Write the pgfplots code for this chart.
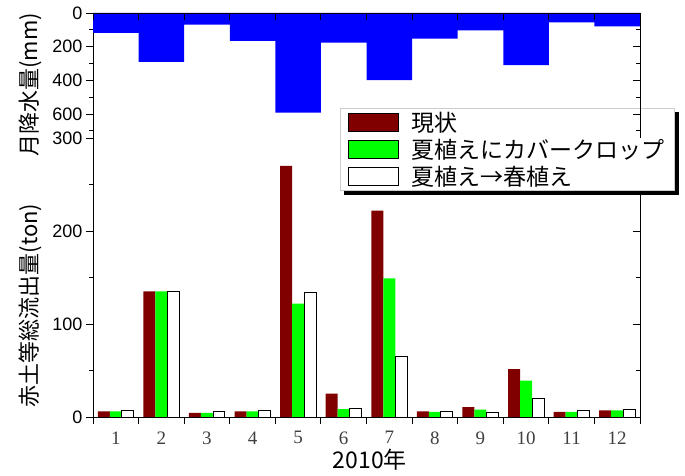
\documentclass[border=0pt]{standalone}
\usepackage{pgfplots}
\usepackage{pgfplotstable}
\pgfplotsset{compat=1.18}
\usepackage{fontspec}
\setmainfont{Liberation Serif}
\setsansfont{Liberation Sans}
\newfontfamily\cjk{Noto Sans CJK JP}

\pgfdeclarelayer{background}
\pgfsetlayers{background,main}

\definecolor{rainblue}{RGB}{0,0,255}
\definecolor{nowred}{RGB}{128,0,0}
\definecolor{covergreen}{RGB}{0,255,0}

% monthly red-soil runoff (ton) for the three cropping scenarios
\pgfplotstableread{
month now cover spring
1   6     6     7
2   135   135   135
3   4.3   4.3   5.7
4   6     6     6.8
5   270   122   134
6   25    8.5   9.5
7   222   149   65
8   6     5.5   6
9   10.7  7.8   5.4
10  51.5  39    19.6
11  5.4   5.4   6.8
12  7     7     8.2
}\runoff

% monthly precipitation (mm)
\pgfplotstableread{
month rain
1   118
2   290
3   69
4   166
5   592
6   176
7   399
8   152
9   103
10  310
11  55
12  79
}\rain

\pgfplotsset{
  panel/.style={
    scale only axis, width=547pt, xmin=0.5, xmax=12.5,
    enlargelimits=false,
    axis line style={line width=0.9pt},
    every tick/.style={black, line width=0.9pt},
    major tick length=7pt, minor tick length=4pt,
    /pgf/number format/assume math mode=true,
    yticklabel style={font=\sffamily\fontsize{18}{18}\selectfont},
  },
  bottompanel/.style={panel, at={(93pt,59pt)}, anchor=south west,
    height=279pt, ymin=0, ymax=300,
    ytick={0,100,200,300}, minor ytick={50,150,250}},
  toppanel/.style={panel, at={(93pt,338pt)}, anchor=south west,
    height=125pt, ymin=0, ymax=742, y dir=reverse,
    ytick={0,200,400,600}, minor ytick={100,300,500,700}},
  boundaries/.style={xtick={0.5,1.5,2.5,3.5,4.5,5.5,6.5,7.5,8.5,9.5,10.5,11.5,12.5}, xticklabels={}},
}

\begin{document}
\begin{tikzpicture}
\useasboundingbox (0,0) rectangle (685pt,476pt);

% right-hand frame of the runoff panel, ticks pointing in
\begin{axis}[bottompanel, axis x line=none, axis y line*=right,
  tick align=inside, yticklabels={}]
  \addplot[draw=none] coordinates {(1,0)};
\end{axis}

% runoff panel
\begin{axis}[bottompanel, axis x line*=bottom, axis y line*=left,
  tick align=outside, boundaries,
  extra x ticks={1,2,3,4,5,6,7,8,9,10,11,12},
  extra x tick style={major tick length=0pt,
    xticklabel style={font=\rmfamily\fontsize{19}{19}\selectfont, text=black!75, yshift=-11pt}},
  ybar=0pt, bar width=0.263,
  legend image code/.code={\draw[#1] (0pt,-9pt) rectangle (50pt,9pt);},
  legend cell align=left,
  legend style={name=lgd, at={(axis description cs:0.4516,1.1075)}, anchor=north west,
    draw=black!20, line width=0.8pt, fill=white,
    font=\cjk\fontsize{23}{25}\selectfont,
    inner xsep=8pt, inner ysep=2pt, row sep=2pt,
    /tikz/every odd column/.style={column sep=10pt}},
  ylabel={\cjk 赤土等総流出量(ton)},
  ylabel style={at={(axis description cs:-0.115,0.4)}, anchor=center,
    font=\cjk\fontsize{22}{22}\selectfont},
  xlabel={\cjk 2010年},
  xlabel style={at={(axis description cs:0.506,-0.154)}, anchor=center,
    font=\cjk\fontsize{23}{23}\selectfont},
]
  \addplot[fill=nowred, draw=none] table[x=month, y=now]{\runoff};
  \addlegendentry{現状}
  \addplot[fill=covergreen, draw=none] table[x=month, y=cover]{\runoff};
  \addlegendentry{夏植えにカバークロップ}
  \addplot[fill=white, draw=black, line width=0.9pt] table[x=month, y=spring]{\runoff};
  \addlegendentry{夏植え→春植え}
\end{axis}

% precipitation panel
\begin{axis}[toppanel, axis x line=none, axis y line*=left,
  tick align=outside, ybar, bar width=1,
  ylabel={\cjk 月降水量(mm)},
  ylabel style={at={(axis description cs:-0.115,0.424)}, anchor=center,
    font=\cjk\fontsize{22}{22}\selectfont},
]
  \addplot[fill=rainblue, draw=none] table[x=month, y=rain]{\rain};
\end{axis}

% top and right frame of the precipitation panel, ticks pointing in
\begin{axis}[toppanel, axis x line*=top, axis y line*=right,
  tick align=inside, boundaries, yticklabels={}]
  \addplot[draw=none] coordinates {(1,0)};
\end{axis}

% solid shadow behind the legend box
\begin{pgfonlayer}{background}
  \fill[black] ([shift={(4pt,-4pt)}]lgd.south west) rectangle ([shift={(4pt,-4pt)}]lgd.north east);
\end{pgfonlayer}
\end{tikzpicture}
\end{document}
